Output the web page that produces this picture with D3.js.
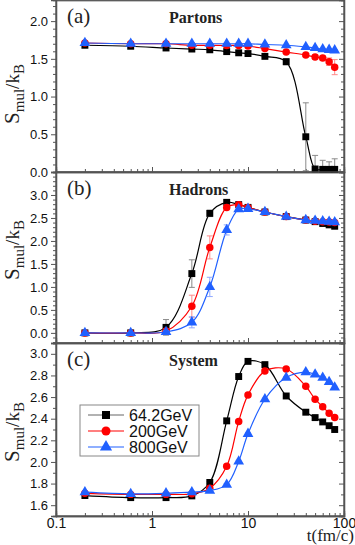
<!DOCTYPE html>
<html>
<head>
<meta charset="utf-8">
<script src="https://cdn.jsdelivr.net/npm/d3@7"></script>
<style>
  body { margin: 0; background: #fff; }
  svg { display: block; }
</style>
</head>
<body>
<script>
// time steps (fm/c)
var times = [0.2, 0.6, 1.4, 2.6, 4, 6, 8, 10, 15, 25, 40, 50, 60, 70, 80]

// (a) partons
var partons64 = [1.68, 1.667, 1.644, 1.63, 1.62, 1.596, 1.58, 1.57, 1.533, 1.462, 0.467, 0.04, 0.035, 0.035, 0.035]
var partons64Err = [0, 0, 0, 0, 0, 0, 0, 0, 0.01, 0.04, 0.45, 0.18, 0.12, 0.1, 0.14]
var partons200 = [1.71, 1.70, 1.70, 1.68, 1.68, 1.677, 1.677, 1.67, 1.636, 1.59, 1.55, 1.524, 1.51, 1.462, 1.39]
var partons200Err = [0, 0, 0, 0, 0, 0, 0, 0, 0, 0.01, 0.02, 0.03, 0.03, 0.05, 0.1]
var partons800 = [1.71, 1.70, 1.70, 1.70, 1.70, 1.70, 1.70, 1.70, 1.69, 1.68, 1.658, 1.645, 1.627, 1.62, 1.613]
var partons800Err = [0, 0, 0, 0, 0, 0, 0, 0, 0, 0, 0.01, 0.01, 0.01, 0.01, 0.01]

// (b) hadrons
var hadrons64 = [0, 0, 0.12, 1.29, 2.60, 2.84, 2.79, 2.73, 2.63, 2.53, 2.455, 2.42, 2.38, 2.35, 2.32]
var hadrons64Err = [0, 0, 0.17, 0.30, 0.07, 0.03, 0.02, 0.02, 0.02, 0.02, 0.02, 0.02, 0.02, 0.02, 0.02]
var hadrons200 = [0, 0, 0.04, 0.58, 1.86, 2.73, 2.79, 2.73, 2.63, 2.53, 2.455, 2.43, 2.42, 2.41, 2.40]
var hadrons200Err = [0, 0, 0.05, 0.24, 0.25, 0.05, 0.02, 0.02, 0.02, 0.02, 0.02, 0.02, 0.02, 0.02, 0.02]
var hadrons800 = [0, 0, 0.02, 0.23, 1.0, 2.24, 2.69, 2.70, 2.63, 2.53, 2.455, 2.44, 2.43, 2.42, 2.41]
var hadrons800Err = [0, 0, 0.03, 0.12, 0.21, 0.11, 0.03, 0.02, 0.02, 0.02, 0.02, 0.02, 0.02, 0.02, 0.02]

// (c) system
var system64 = [1.689, 1.67, 1.67, 1.686, 1.81, 2.38, 2.79, 2.93, 2.90, 2.61, 2.46, 2.41, 2.37, 2.335, 2.30]
var system200 = [1.71, 1.70, 1.70, 1.705, 1.757, 1.96, 2.375, 2.62, 2.84, 2.86, 2.70, 2.58, 2.51, 2.45, 2.41]
var system800 = [1.72, 1.705, 1.71, 1.72, 1.735, 1.79, 2.005, 2.26, 2.58, 2.78, 2.83, 2.81, 2.78, 2.74, 2.69]
var systemErr = [0, 0, 0, 0, 0.01, 0.01, 0.01, 0.01, 0.01, 0.01, 0.01, 0.01, 0.01, 0.01, 0.01]

var seriesNames = ["64.2GeV", "200GeV", "800GeV"]
var seriesColors = ["#000000", "#ff0000", "#2060ff"]
var errColors = ["#8a8a8a", "#ff8a8a", "#8fa8ff"]
var seriesShapes = [d3.symbolSquare, d3.symbolCircle, d3.symbolTriangle]
var shapeSizes = [48, 44, 50]

var xTicks = [0.1, 1, 10, 100]
var xTickLabels = ["0.1", "1", "10", "100"]

var panels = [
    { label: "(a)", title: "Partons", top: 0, bottom: 172, domain: [0, 2.28],
      major: [0, 0.5, 1.0, 1.5, 2.0], minorStep: 0.1, labelY: 94,
      series: [[partons64, partons64Err], [partons200, partons200Err], [partons800, partons800Err]] },
    { label: "(b)", title: "Hadrons", top: 172, bottom: 343, domain: [-0.22, 3.5],
      major: [0, 0.5, 1.0, 1.5, 2.0, 2.5, 3.0], minorStep: 0.1, labelY: 250,
      series: [[hadrons64, hadrons64Err], [hadrons200, hadrons200Err], [hadrons800, hadrons800Err]] },
    { label: "(c)", title: "System", top: 343, bottom: 516, domain: [1.5, 3.1],
      major: [1.6, 1.8, 2.0, 2.2, 2.4, 2.6, 2.8, 3.0], minorStep: 0.1, labelY: 432,
      series: [[system64, systemErr], [system200, systemErr], [system800, systemErr]] }
]

var width = 355, height = 545
var left = 56, right = 344

var svg = d3.select("body").append("svg")
    .attr("width", width)
    .attr("height", height)

var xScale = d3.scaleLog()
    .domain([0.1, 100])
    .range([left, right])

var minorX = []
for (var e = -1; e < 2; e++) {
    for (var m = 2; m <= 9; m++) minorX.push(m * Math.pow(10, e))
}

var sans = "'Liberation Sans', Arial, sans-serif"
var serif = "'Liberation Serif', 'Times New Roman', serif"
var defs = svg.append("defs")

panels.forEach(function (p, pi) {
    var yScale = d3.scaleLinear()
        .domain(p.domain)
        .range([p.bottom, p.top])

    var minorY = d3.range(Math.ceil(p.domain[0] / p.minorStep), Math.floor(p.domain[1] / p.minorStep) + 1)
        .map(function (k) { return +(k * p.minorStep).toFixed(2) })
        .filter(function (v) { return p.major.indexOf(v) < 0 })

    defs.append("clipPath").attr("id", "clip" + pi)
        .append("rect")
        .attr("x", left).attr("y", p.top)
        .attr("width", right - left).attr("height", p.bottom - p.top)

    var g = svg.append("g")

    // left axis, ticks outward
    g.append("g")
        .attr("transform", "translate(" + left + ",0)")
        .call(d3.axisLeft(yScale).tickValues(minorY).tickSize(3).tickFormat(""))
    g.append("g")
        .attr("class", "ylab")
        .attr("transform", "translate(" + left + ",0)")
        .call(d3.axisLeft(yScale).tickValues(p.major).tickSize(5).tickPadding(3).tickFormat(d3.format(".1f")))

    // right axis, ticks inward
    g.append("g")
        .attr("transform", "translate(" + right + ",0)")
        .call(d3.axisLeft(yScale).tickValues(minorY).tickSize(3).tickFormat(""))
    g.append("g")
        .attr("transform", "translate(" + right + ",0)")
        .call(d3.axisLeft(yScale).tickValues(p.major).tickSize(5).tickFormat(""))

    // bottom axis, ticks inward
    g.append("g")
        .attr("transform", "translate(0," + p.bottom + ")")
        .call(d3.axisTop(xScale).tickValues(minorX).tickSize(3).tickFormat(""))
    g.append("g")
        .attr("transform", "translate(0," + p.bottom + ")")
        .call(d3.axisTop(xScale).tickValues(xTicks).tickSize(5).tickFormat(""))

    if (pi == panels.length - 1) {
        g.append("g")
            .attr("class", "xlab")
            .attr("transform", "translate(0," + p.bottom + ")")
            .call(d3.axisBottom(xScale).tickValues(xTicks).tickSize(0).tickPadding(2)
                .tickFormat(function (d, i) { return xTickLabels[i] }))
            .select(".domain").remove()
    }

    g.selectAll(".domain").attr("stroke", "#555").attr("stroke-width", 1.3)
    g.selectAll(".tick line").attr("stroke", "#555")
    g.selectAll(".ylab text").attr("font-family", sans).attr("font-size", 13).attr("fill", "#111")
    g.selectAll(".xlab text").attr("font-family", sans).attr("font-size", 14).attr("fill", "#111")

    // frame
    g.append("rect")
        .attr("x", left)
        .attr("y", p.top + (pi == 0 ? 0.7 : 0))
        .attr("width", right - left)
        .attr("height", p.bottom - p.top - (pi == 0 ? 0.7 : 0))
        .attr("fill", "none")
        .attr("stroke", "#555")
        .attr("stroke-width", 1.3)

    var line = d3.line()
        .x(function (d) { return xScale(d.t) })
        .y(function (d) { return yScale(d.v) })
        .curve(d3.curveCatmullRom.alpha(0.5))

    p.series.forEach(function (s, si) {
        var data = times.map(function (t, i) { return { t: t, v: s[0][i], err: s[1][i] } })
        var sg = g.append("g")

        sg.append("path")
            .datum(data)
            .attr("clip-path", "url(#clip" + pi + ")")
            .attr("d", line)
            .attr("fill", "none")
            .attr("stroke", seriesColors[si])
            .attr("stroke-width", 1.2)

        var eb = sg.append("g")
            .attr("clip-path", "url(#clip" + pi + ")")
            .selectAll(".err")
            .data(data.filter(function (d) { return d.err > 0 }))
            .enter().append("g")
            .attr("stroke", errColors[si])
            .attr("stroke-width", 1)
        eb.append("line")
            .attr("x1", function (d) { return xScale(d.t) })
            .attr("x2", function (d) { return xScale(d.t) })
            .attr("y1", function (d) { return yScale(d.v - d.err) })
            .attr("y2", function (d) { return yScale(d.v + d.err) })
        eb.append("line")
            .attr("x1", function (d) { return xScale(d.t) - 3 })
            .attr("x2", function (d) { return xScale(d.t) + 3 })
            .attr("y1", function (d) { return yScale(d.v + d.err) })
            .attr("y2", function (d) { return yScale(d.v + d.err) })
        eb.append("line")
            .attr("x1", function (d) { return xScale(d.t) - 3 })
            .attr("x2", function (d) { return xScale(d.t) + 3 })
            .attr("y1", function (d) { return yScale(d.v - d.err) })
            .attr("y2", function (d) { return yScale(d.v - d.err) })

        sg.selectAll(".pt")
            .data(data)
            .enter().append("path")
            .attr("transform", function (d) { return "translate(" + xScale(d.t) + "," + yScale(d.v) + ")" })
            .attr("d", d3.symbol().type(seriesShapes[si]).size(shapeSizes[si]))
            .attr("fill", seriesColors[si])
    })

    // panel label and title
    svg.append("text")
        .attr("x", 67)
        .attr("y", p.top + 23)
        .attr("font-family", serif)
        .attr("font-size", 21)
        .attr("fill", "#222")
        .text(p.label)
    svg.append("text")
        .attr("x", 169)
        .attr("y", p.top + 23)
        .attr("font-family", serif)
        .attr("font-weight", "bold")
        .attr("font-size", 16)
        .attr("fill", "#222")
        .text(p.title)

    // y axis title
    var yt = svg.append("text")
        .attr("transform", "translate(19," + p.labelY + ") rotate(-90)")
        .attr("text-anchor", "middle")
        .attr("font-family", serif)
        .attr("fill", "#222")
    yt.append("tspan").attr("font-size", 21).text("S")
    yt.append("tspan").attr("font-size", 15).attr("dy", 5).text("mul")
    yt.append("tspan").attr("font-size", 19).attr("dy", -5).text("/k")
    yt.append("tspan").attr("font-size", 15).attr("dy", 5).text("B")
})

// x axis title
svg.append("text")
    .attr("x", 354)
    .attr("y", 541)
    .attr("text-anchor", "end")
    .attr("font-family", serif)
    .attr("font-size", 17)
    .attr("fill", "#222")
    .text("t(fm/c)")

// legend
var legend = svg.append("g").attr("transform", "translate(80,405)")
legend.append("rect")
    .attr("width", 119)
    .attr("height", 51)
    .attr("fill", "#fff")
    .attr("stroke", "#888")
    .attr("stroke-width", 1)
seriesNames.forEach(function (name, i) {
    var ly = 10 + i * 16
    legend.append("line")
        .attr("x1", 8).attr("x2", 44)
        .attr("y1", ly).attr("y2", ly)
        .attr("stroke", i == 0 ? "#666" : seriesColors[i])
        .attr("stroke-width", 1.2)
    legend.append("path")
        .attr("transform", "translate(26," + ly + ")")
        .attr("d", d3.symbol().type(seriesShapes[i]).size(64))
        .attr("fill", seriesColors[i])
    legend.append("text")
        .attr("x", 49)
        .attr("y", ly + 5.5)
        .attr("font-family", sans)
        .attr("font-size", 16)
        .attr("fill", "#111")
        .text(name)
})
</script>
</body>
</html>
